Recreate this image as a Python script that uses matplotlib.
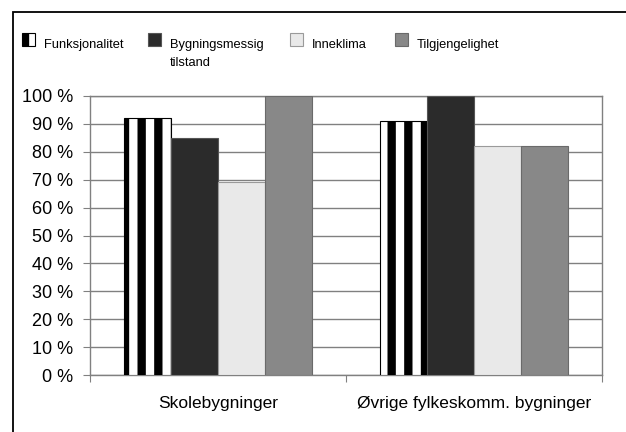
import matplotlib
matplotlib.use("Agg")
import matplotlib.pyplot as plt
from matplotlib.patches import Rectangle
import numpy as np

plt.rcParams['font.family'] = ['Liberation Sans', 'DejaVu Sans']
plt.rcParams['hatch.linewidth'] = 6.0

categories = ["Skolebygninger", "Øvrige fylkeskomm. bygninger"]
series_names = ["Funksjonalitet", "Bygningsmessig\ntilstand", "Inneklima", "Tilgjengelighet"]
funksjonalitet = [92, 91]
bygningsmessig = [85, 100]
inneklima = [69, 82]
tilgjengelighet = [100, 82]
y_ticks = [0, 10, 20, 30, 40, 50, 60, 70, 80, 90, 100]
y_tick_labels = [f"{v} %" for v in y_ticks]

series = [funksjonalitet, bygningsmessig, inneklima, tilgjengelighet]
styles = [
    dict(facecolor="white", edgecolor="black", hatch="|", linewidth=0.8),
    dict(facecolor="#2b2b2b", edgecolor="#555555", linewidth=0.8),
    dict(facecolor="#e9e9e9", edgecolor="#9a9a9a", linewidth=0.8),
    dict(facecolor="#888888", edgecolor="#6a6a6a", linewidth=0.8),
]

W, H = 626, 432
fig = plt.figure(figsize=(W / 100, H / 100), dpi=100)
ax = fig.add_axes([90 / W, 1 - 375 / H, 512 / W, 279 / H])

x = np.arange(len(categories))
width = 0.183
offsets = (np.arange(len(series)) - 1.5) * width
for vals, off, st in zip(series, offsets, styles):
    ax.bar(x + off, vals, width=width, zorder=3, **st)

ax.set_xlim(-0.5, 1.5)
ax.set_ylim(0, 100)
ax.set_yticks(y_ticks)
ax.set_yticklabels(y_tick_labels, fontsize=13)
ax.yaxis.grid(True, color="#808080", linewidth=1.0, zorder=0)
ax.set_axisbelow(True)

ax.set_xticks([-0.5, 0.5, 1.5])
ax.set_xticklabels([])
ax.set_xticks(x, minor=True)
ax.set_xticklabels(categories, minor=True, fontsize=12.5)
ax.tick_params(axis="x", which="minor", length=0, pad=15)
ax.tick_params(axis="x", which="major", length=5, color="#808080", direction="out")
ax.tick_params(axis="y", length=5, color="#808080", pad=7, direction="out")

for side in ["left", "right", "top", "bottom"]:
    ax.spines[side].set_color("#808080")
    ax.spines[side].set_linewidth(1.0)

# legend row across the top of the figure (pixel positions)
legend_x = [22, 148, 290, 395]
box_w, box_h = 13, 13
box_top = 33
text_gap = 9
baseline = 48
for lx, st, name in zip(legend_x, styles, series_names):
    fig.add_artist(Rectangle((lx / W, 1 - (box_top + box_h) / H), box_w / W, box_h / H,
                             transform=fig.transFigure, **st))
    lines = name.split("\n")
    for i, line in enumerate(lines):
        fig.text((lx + box_w + text_gap) / W, 1 - (baseline + 18 * i) / H, line,
                 fontsize=9.3, ha="left", va="baseline")

frame = Rectangle((13 / W, -0.05), 1.1, 1 - 12 / H + 0.05,
                  transform=fig.transFigure, fill=False,
                  edgecolor="black", linewidth=1.3)
fig.add_artist(frame)

fig.savefig("out.png", dpi=100)
